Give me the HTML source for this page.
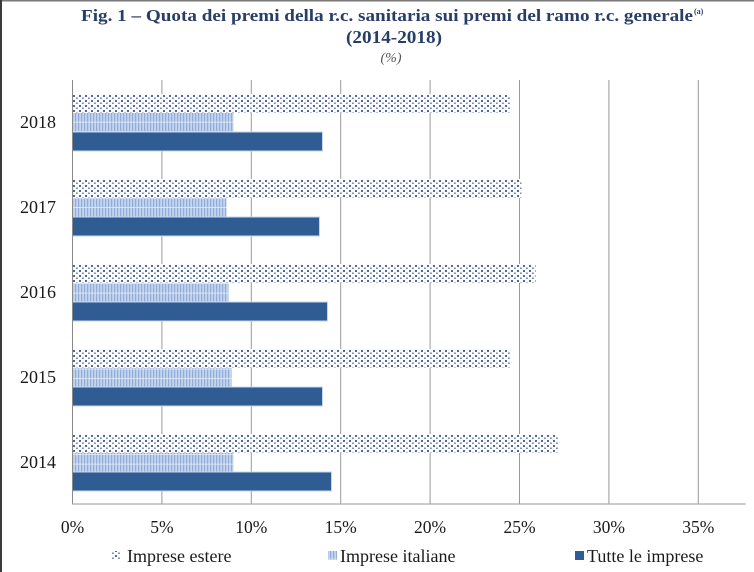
<!DOCTYPE html>
<html><head><meta charset="utf-8"><style>
html,body{margin:0;padding:0;background:#fff;}
svg{display:block;}
</style></head><body>
<svg width="754" height="572" viewBox="0 0 754 572" xmlns="http://www.w3.org/2000/svg">
<defs>
<pattern id="dots" width="6" height="5" patternUnits="userSpaceOnUse" x="72" y="94">
<rect width="6" height="5" fill="#fbfcfe"/>
<rect x="1" y="1" width="2" height="2" fill="#56668f"/>
<rect x="4" y="3.5" width="1.8" height="1.5" fill="#7888ad"/>
</pattern>
<pattern id="stripes" width="3" height="9.5" patternUnits="userSpaceOnUse" x="72" y="113">
<rect width="3" height="9.5" fill="#c3d4ef"/>
<rect x="0" y="0" width="1.2" height="9.5" fill="#92acd9"/>
<rect x="0" y="8.7" width="3" height="0.8" fill="#e4ecf8"/>
</pattern>
</defs>
<rect width="754" height="572" fill="#fff"/>
<!-- borders -->
<rect x="0" y="0" width="754" height="1.5" fill="#7a7a7a"/>
<rect x="0" y="0" width="2" height="572" fill="#3a3a3a"/>

<!-- title -->
<text x="81" y="21" font-family="Liberation Serif, serif" font-weight="bold" font-size="17" fill="#283d68" textLength="612" lengthAdjust="spacingAndGlyphs">Fig. 1 – Quota dei premi della r.c. sanitaria sui premi del ramo r.c. generale</text>
<text x="694" y="14" font-family="Liberation Serif, serif" font-weight="bold" font-size="8" fill="#283d68">(a)</text>
<text x="346" y="43" font-family="Liberation Serif, serif" font-weight="bold" font-size="18" fill="#283d68" textLength="96" lengthAdjust="spacingAndGlyphs">(2014-2018)</text>
<text x="391" y="62" text-anchor="middle" font-family="Liberation Serif, serif" font-style="italic" font-size="14" fill="#555">(%)</text>

<!-- gridlines -->
<g stroke="#9a9a9a" stroke-width="1">
<line x1="161.9" y1="80" x2="161.9" y2="504"/>
<line x1="251.3" y1="80" x2="251.3" y2="504"/>
<line x1="340.7" y1="80" x2="340.7" y2="504"/>
<line x1="430.1" y1="80" x2="430.1" y2="504"/>
<line x1="519.5" y1="80" x2="519.5" y2="504"/>
<line x1="608.9" y1="80" x2="608.9" y2="504"/>
<line x1="698.3" y1="80" x2="698.3" y2="504"/>
</g>

<!-- 2018 -->
<rect x="72.5" y="94" width="438" height="19" fill="url(#dots)"/>
<rect x="72.5" y="113" width="161" height="19" fill="url(#stripes)"/>
<rect x="72.5" y="132" width="250" height="19" fill="#305c94" stroke="#c8d6ea" stroke-width="1"/>
<!-- 2017 -->
<rect x="72.5" y="179" width="449" height="19" fill="url(#dots)"/>
<rect x="72.5" y="198" width="154" height="19" fill="url(#stripes)"/>
<rect x="72.5" y="217" width="247" height="19" fill="#305c94" stroke="#c8d6ea" stroke-width="1"/>
<!-- 2016 -->
<rect x="72.5" y="264" width="463" height="19" fill="url(#dots)"/>
<rect x="72.5" y="283" width="156" height="19" fill="url(#stripes)"/>
<rect x="72.5" y="302" width="255" height="19" fill="#305c94" stroke="#c8d6ea" stroke-width="1"/>
<!-- 2015 -->
<rect x="72.5" y="349" width="438" height="19" fill="url(#dots)"/>
<rect x="72.5" y="368" width="159" height="19" fill="url(#stripes)"/>
<rect x="72.5" y="387" width="250" height="19" fill="#305c94" stroke="#c8d6ea" stroke-width="1"/>
<!-- 2014 -->
<rect x="72.5" y="434" width="486" height="19" fill="url(#dots)"/>
<rect x="72.5" y="453" width="161" height="19" fill="url(#stripes)"/>
<rect x="72.5" y="472" width="259" height="19" fill="#305c94" stroke="#c8d6ea" stroke-width="1"/>

<!-- axes -->
<line x1="72.5" y1="80" x2="72.5" y2="504" stroke="#8a8a8a" stroke-width="1"/>
<line x1="72" y1="504" x2="746" y2="504" stroke="#9a9a9a" stroke-width="1"/>

<!-- year labels -->
<g font-family="Liberation Serif, serif" font-size="18" fill="#1a1a1a">
<text x="20" y="128">2018</text>
<text x="20" y="213">2017</text>
<text x="20" y="298">2016</text>
<text x="20" y="383">2015</text>
<text x="20" y="468">2014</text>
</g>

<!-- tick labels -->
<g font-family="Liberation Serif, serif" font-size="17.5" fill="#1a1a1a" text-anchor="middle">
<text x="72.5" y="533">0%</text>
<text x="161.9" y="533">5%</text>
<text x="251.3" y="533">10%</text>
<text x="340.7" y="533">15%</text>
<text x="430.1" y="533">20%</text>
<text x="519.5" y="533">25%</text>
<text x="608.9" y="533">30%</text>
<text x="698.3" y="533">35%</text>
</g>

<!-- legend -->
<rect x="111" y="551" width="9" height="9" fill="url(#dots)"/>
<rect x="328" y="551" width="9" height="9" fill="url(#stripes)"/>
<rect x="575" y="551" width="9" height="9" fill="#305c94"/>
<g font-family="Liberation Serif, serif" font-size="18" fill="#1a1a1a">
<text x="127" y="562">Imprese estere</text>
<text x="340" y="562">Imprese italiane</text>
<text x="587" y="562">Tutte le imprese</text>
</g>
</svg>
</body></html>
